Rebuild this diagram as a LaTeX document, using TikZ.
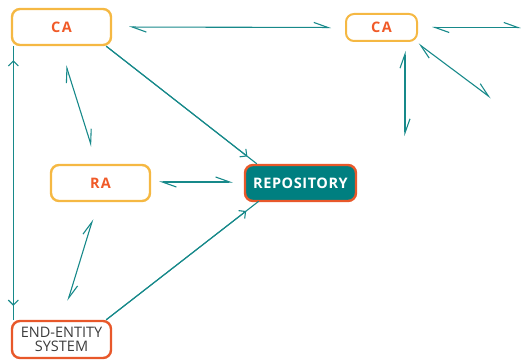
\documentclass[tikz,border=0pt]{standalone}
\usepackage{fontspec}
\setmainfont{Open Sans}
\usetikzlibrary{arrows.meta,calc}
\definecolor{teal1}{HTML}{17898A}
\definecolor{repofill}{HTML}{007F80}
\definecolor{yelb}{HTML}{F5B843}
\definecolor{orb}{HTML}{E8582A}
\definecolor{ortx}{HTML}{F05A28}
\definecolor{eetx}{HTML}{3C3C3C}
\tikzset{
  box/.style={rounded corners=8pt, line width=2.4pt, align=center, inner sep=0pt},
  cabox/.style={box, draw=yelb, text=ortx, font=\fontsize{14.5}{15}\selectfont\bfseries\addfontfeatures{LetterSpace=9}},
  link/.style={draw=teal1, line width=1.1pt},
  hp/.style={link, {Straight Barb[harpoon,length=14pt,width=10pt,line width=1.1pt]}-{Straight Barb[harpoon,length=14pt,width=10pt,line width=1.1pt]}},
  fa/.style={link, -{Straight Barb[length=5pt,width=10pt,line width=1.1pt]}},
  fab/.style={link, {Straight Barb[length=5pt,width=10pt,line width=1.1pt]}-{Straight Barb[length=5pt,width=10pt,line width=1.1pt]}},
}
\begin{document}
\begin{tikzpicture}[x=1pt,y=-1pt]
\useasboundingbox (0,0) rectangle (521,361);
\node[cabox, minimum width=99pt, minimum height=36pt] (ca1) at (61.5,27) {CA};
\node[cabox, minimum width=71pt, minimum height=27pt, line width=2pt] (ca2) at (381.5,27.5) {CA};
\node[cabox, minimum width=99pt, minimum height=36pt] (ra) at (100.5,183) {RA};
\node[box, draw=orb, fill=repofill, text=white, minimum width=111pt, minimum height=36pt,
  font=\fontsize{14.5}{15}\selectfont\bfseries\addfontfeatures{LetterSpace=4}] (repo) at (300.5,183) {REPOSITORY};
\node[box, draw=orb, text=eetx, minimum width=99pt, minimum height=37pt,
  font=\fontsize{14.5}{14.5}\selectfont] (ee) at (61.5,339.5) {END-ENTITY\\SYSTEM};

\coordinate (edge) at (521,27.5);
\coordinate (ca2down) at (405,136);
\coordinate (ca2diag) at (491,98);

% CA - CA
\draw[hp, shorten <=17pt, shorten >=14pt] (ca1.east) -- (ca2.west);
% CA2 - right edge
\draw[hp, shorten <=14pt] (ca2.east) -- (edge);
% CA2 down
\draw[hp, shorten <=9pt] ([xshift=23.5pt]ca2.south) -- (ca2down);
% CA2 diagonal
\draw[hp, shorten <=3pt] ([xshift=-2pt]ca2.south east) -- (ca2diag);
% CA1 - EE vertical
\draw[link] ([xshift=2.5pt]ca1.south west) -- ([xshift=2.5pt]ee.north west);
\draw[fab, shorten <=14pt, shorten >=14pt] ([xshift=2.5pt]ca1.south west) -- ([xshift=2.5pt]ee.north west);
% CA1 - RA
\draw[hp, shorten <=20pt, shorten >=18pt] ([xshift=-1.5pt]ca1.south) -- ([xshift=-3.5pt]ra.north);
% CA1 -> REPO
\draw[link] ([xshift=-6pt]ca1.south east) -- ([xshift=13pt]repo.north west);
\draw[fa, shorten >=12pt] ([xshift=-6pt]ca1.south east) -- ([xshift=13pt]repo.north west);
% RA - REPO
\draw[hp, shorten <=8pt, shorten >=11pt] ([yshift=1pt]ra.east) -- ([yshift=1pt]repo.west);
% RA - EE
\draw[hp, shorten <=17.7pt, shorten >=19.8pt] ([xshift=-2.5pt]ra.south) -- ([xshift=0.5pt]ee.north);
% EE -> REPO
\draw[link] ([xshift=-6pt]ee.north east) -- ([xshift=15pt,yshift=1pt]repo.south west);
\draw[fa, shorten >=16pt] ([xshift=-6pt]ee.north east) -- ([xshift=15pt,yshift=1pt]repo.south west);
\end{tikzpicture}
\end{document}
